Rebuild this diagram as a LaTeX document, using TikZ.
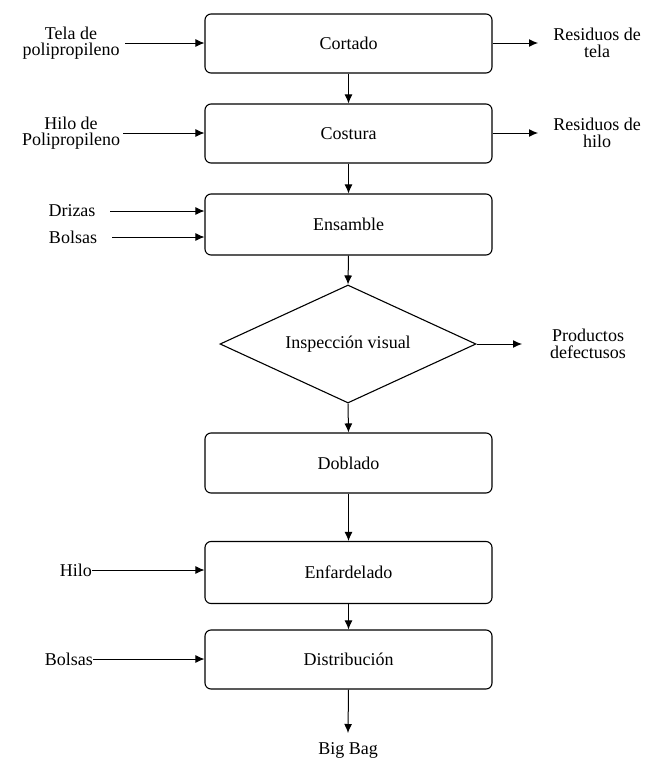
\documentclass[tikz,border=0pt]{standalone}
\usepackage{fontspec}
\setmainfont{Liberation Serif}
\usetikzlibrary{arrows.meta,shapes.geometric}
\begin{document}
\begin{tikzpicture}[x=1pt,y=-1pt,
  txt/.style={font=\fontsize{18}{16.5}\selectfont},
  proc/.style={draw,rounded corners=6pt,line width=1.1pt,minimum width=287pt,minimum height=59pt,inner sep=0pt,txt},
  lbl/.style={align=center,inner sep=1pt,txt},
  arr/.style={line width=1pt,-{Latex[length=9pt,width=8pt]}}]
\useasboundingbox (0,0) rectangle (651,761);
\node[proc] (cort) at (348.5,43.5) {Cortado};
\node[proc] (cost) at (348.5,133.5) {Costura};
\node[proc,minimum height=61pt] (ens) at (348.5,224.5) {Ensamble};
\node[draw,diamond,line width=1.1pt,aspect=2.17,minimum width=256pt,minimum height=118pt,inner sep=0pt,txt] (insp) at (348,344) {Inspección visual};
\node[proc,minimum height=60pt] (dobl) at (348.5,463) {Doblado};
\node[proc,minimum height=62pt] (enf) at (348.5,572.5) {Enfardelado};
\node[proc] (dist) at (348.5,659.5) {Distribución};
\node[lbl] (bb) at (348,750) {Big Bag};
\coordinate (bbt) at (348,733);
% inputs
\node[lbl] (tela) at (71,43) {Tela de\\polipropileno};
\coordinate (telas) at (125,43);
\node[lbl] (hilop) at (71,133) {Hilo de\\Polipropileno};
\coordinate (hilops) at (123,133);
\node[lbl] (driz) at (72,211) {Drizas};
\coordinate (drizs) at (110,211);
\node[lbl] (bols1) at (73,237) {Bolsas};
\coordinate (bols1s) at (112,237);
\node[lbl,inner sep=0pt,anchor=east] (hilo) at (92,570) {Hilo};
\node[lbl,inner sep=0pt,anchor=east] (bols2) at (93,659) {Bolsas};
% outputs
\node[lbl] (rtela) at (597,43) {Residuos de\\tela};
\coordinate (rtelae) at (538,43);
\node[lbl] (rhilo) at (597,133) {Residuos de\\hilo};
\coordinate (rhiloe) at (538,133);
\node[lbl] (prod) at (588,344) {Productos\\defectusos};
\coordinate (prode) at (522,344);
% connectors
\draw[arr] (telas) -- (telas -| cort.west);
\draw[arr] (hilops) -- (hilops -| cost.west);
\draw[arr] (drizs) -- (drizs -| ens.west);
\draw[arr] (bols1s) -- (bols1s -| ens.west);
\draw[arr] (hilo.east) -- (hilo.east -| enf.west);
\draw[arr] (bols2.east) -- (bols2.east -| dist.west);
\draw[arr] (cort.east |- rtelae) -- (rtelae);
\draw[arr] (cost.east |- rhiloe) -- (rhiloe);
\draw[arr] (insp.east) -- (prode);
\draw[arr] (cort.south) -- (cost.north);
\draw[arr] (cost.south) -- (ens.north);
\draw[arr] (ens.south) -- (insp.north);
\draw[arr] (insp.south) -- (dobl.north);
\draw[arr] (dobl.south) -- (enf.north);
\draw[arr] (enf.south) -- (dist.north);
\draw[arr] (dist.south) -- (bbt);
\end{tikzpicture}
\end{document}
